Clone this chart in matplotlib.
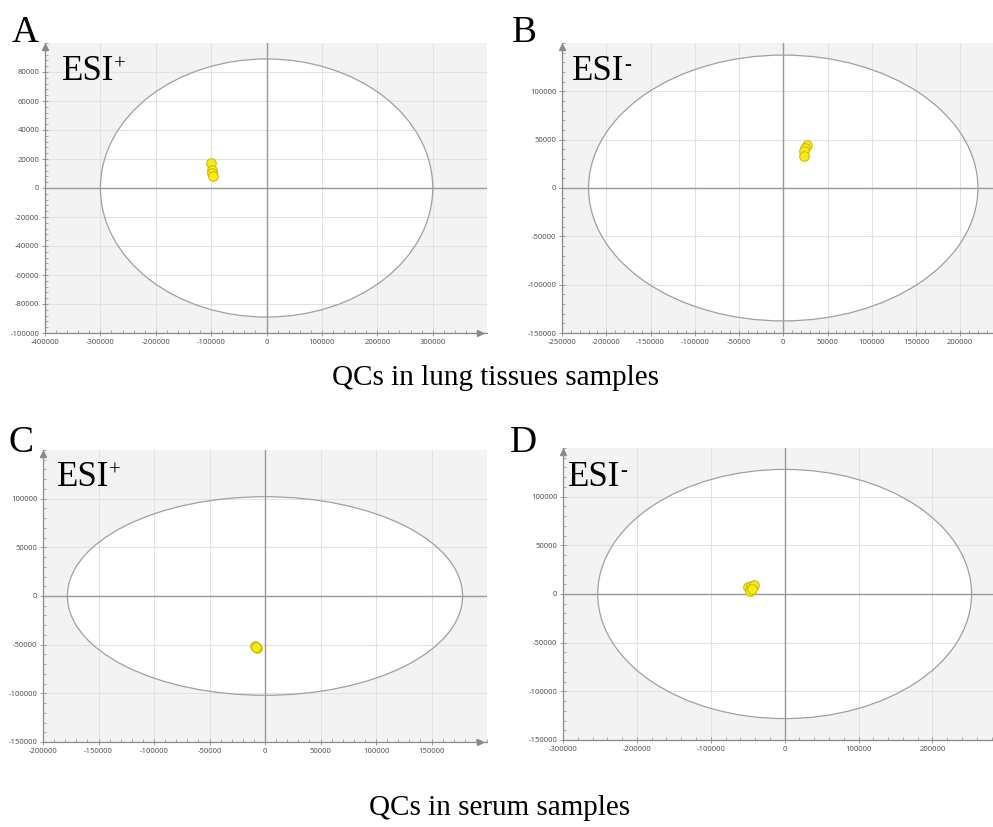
import numpy as np
import matplotlib
matplotlib.use('Agg')
import matplotlib.pyplot as plt
from matplotlib.patches import Ellipse
from matplotlib.ticker import MultipleLocator, AutoMinorLocator

plt.rcParams['axes.unicode_minus'] = False

W, H = 993, 827

# score points of the QC samples (t[1], t[2])
a_x = [-101000, -99000, -98000, -97000]
a_y = [17000, 12500, 10500, 8000]
b_x = [27000, 25000, 23000, 24000]
b_y = [45000, 41000, 38000, 33000]
c_x = [-9000, -7000, -8000]
c_y = [-51000, -53500, -52000]
d_x = [-50000, -46000, -42000, -47000, -44000]
d_y = [7000, 8000, 9000, 3000, 5000]

# Hotelling T2 ellipse radii (x, y)
ell_a = (300000, 89000)
ell_b = (220000, 137500)
ell_c = (178000, 102000)
ell_d = (253000, 128000)

panels = [
    dict(letter="A", esi="+", x=a_x, y=a_y, ell=ell_a,
         xlim=(-400000, 398000), ylim=(-100000, 100000),
         xticks=np.arange(-400000, 300001, 100000), yticks=np.arange(-100000, 80001, 20000),
         box=(45, 43, 487, 333), lpos=(12, 42), epos=(62, 80)),
    dict(letter="B", esi="-", x=b_x, y=b_y, ell=ell_b,
         xlim=(-250000, 237000), ylim=(-150000, 150000),
         xticks=np.arange(-250000, 200001, 50000), yticks=np.arange(-150000, 100001, 50000),
         box=(562, 43, 993, 333), lpos=(512, 42), epos=(572, 80)),
    dict(letter="C", esi="+", x=c_x, y=c_y, ell=ell_c,
         xlim=(-200000, 200000), ylim=(-150000, 150000),
         xticks=np.arange(-200000, 150001, 50000), yticks=np.arange(-150000, 100001, 50000),
         box=(43, 450, 487, 742), lpos=(8, 452), epos=(57, 486)),
    dict(letter="D", esi="-", x=d_x, y=d_y, ell=ell_d,
         xlim=(-300000, 282000), ylim=(-150000, 150000),
         xticks=np.arange(-300000, 200001, 100000), yticks=np.arange(-150000, 100001, 50000),
         box=(563, 448, 993, 740), lpos=(510, 452), epos=(568, 486)),
]

fig = plt.figure(figsize=(W / 100, H / 100), dpi=100)

for p in panels:
    x0, y0, x1, y1 = p["box"]
    ax = fig.add_axes([x0 / W, 1 - y1 / H, (x1 - x0) / W, (y1 - y0) / H])
    ax.set_facecolor("#f3f3f3")
    ax.set_xlim(*p["xlim"])
    ax.set_ylim(*p["ylim"])
    ax.set_xticks(p["xticks"])
    ax.set_yticks(p["yticks"])
    ax.xaxis.set_minor_locator(AutoMinorLocator(5))
    ax.yaxis.set_minor_locator(AutoMinorLocator(5))
    ax.set_axisbelow(True)
    ax.grid(True, which="major", color="#e2e2e2", lw=0.8)

    ex, ey = p["ell"]
    ax.add_patch(Ellipse((0, 0), 2 * ex, 2 * ey, facecolor="white",
                         edgecolor="none", zorder=0.2))
    ax.add_patch(Ellipse((0, 0), 2 * ex, 2 * ey, facecolor="none",
                         edgecolor="#a0a0a0", lw=0.9, zorder=2))
    ax.axhline(0, color="#9a9a9a", lw=1.0, zorder=1.5)
    ax.axvline(0, color="#9a9a9a", lw=1.0, zorder=1.5)

    ax.scatter(p["x"], p["y"], s=48, color="#f7ea1a", edgecolor="#c9b800",
               linewidth=0.7, zorder=3)

    for s in ["top", "right"]:
        ax.spines[s].set_visible(False)
    for s in ["left", "bottom"]:
        ax.spines[s].set_color("#8a8a8a")
        ax.spines[s].set_linewidth(0.9)
    ax.tick_params(which="major", direction="inout", length=4, width=0.6,
                   color="#8a8a8a", labelsize=5.5, labelcolor="#555555", pad=2)
    ax.tick_params(which="minor", direction="in", length=2, width=0.5, color="#8a8a8a")
    for lab in ax.get_xticklabels() + ax.get_yticklabels():
        lab.set_fontfamily("Noto Sans")

    # arrow heads on the axes
    if x1 < W:
        ax.plot([0.985], [0], marker=">", ms=5, color="#8a8a8a",
                transform=ax.transAxes, clip_on=False)
    ax.plot([0], [0.985], marker="^", ms=4, color="#8a8a8a",
            transform=ax.transAxes, clip_on=False)

    lx, ly = p["lpos"]
    fig.text(lx / W, 1 - ly / H, p["letter"], fontsize=27,
             family="Liberation Serif", ha="left", va="baseline")
    ex0, ey0 = p["epos"]
    t = fig.text(ex0 / W, 1 - ey0 / H, "ESI", fontsize=25,
                 family="Liberation Serif", ha="left", va="baseline", zorder=5)
    fig.text(0, 0, "").set_visible(False)
    ax.annotate(p["esi"], xy=(1, 0.97), xycoords=t, ha="left", va="top",
                fontsize=15, family="Liberation Serif", annotation_clip=False)

fig.text(496 / W, 1 - 378 / H, "QCs in lung tissues samples", fontsize=21,
         family="Liberation Serif", ha="center", va="center")
fig.text(500 / W, 1 - 808 / H, "QCs in serum samples", fontsize=21,
         family="Liberation Serif", ha="center", va="center")

plt.savefig("out.png", dpi=100)
plt.close()
